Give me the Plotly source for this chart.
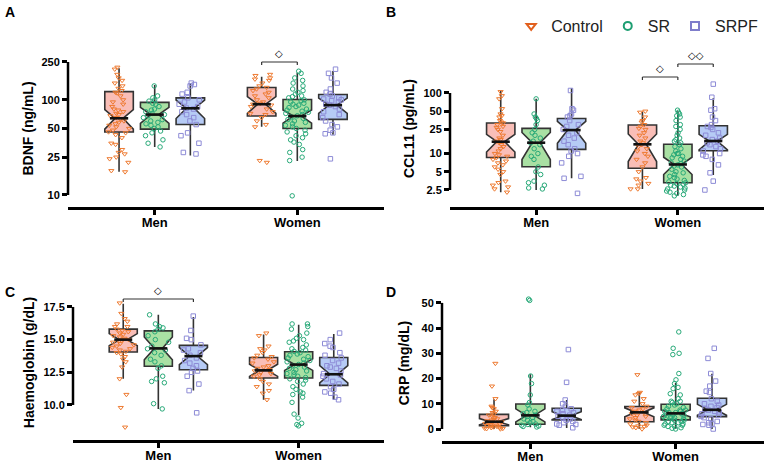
import math
import plotly.graph_objects as go

W, H = 767, 464
GROUPS = ["Control", "SR", "SRPF"]
SEXES = ["Men", "Women"]

# ---------------- Panel A: BDNF (ng/mL) ----------------
BDNF_CONTROL_MEN = [220, 210, 185, 170, 160, 150, 140, 132, 125, 120, 118, 110, 100, 95, 90, 85, 80, 78, 75, 72, 70, 68, 65, 63, 60, 58, 56, 54, 52, 50, 48, 46, 45, 43, 40, 35, 34, 30, 28, 27, 25, 24, 22, 18, 17.5]
BDNF_CONTROL_WOMEN = [185, 180, 170, 165, 160, 150, 140, 135, 130, 125, 120, 115, 110, 105, 100, 95, 92, 90, 88, 85, 80, 75, 72, 70, 65, 60, 55, 52, 23, 22]
BDNF_SR_MEN = [140, 110, 105, 100, 97, 92, 90, 85, 80, 78, 75, 72, 70, 68, 65, 62, 60, 58, 56, 54, 52, 50, 47, 45, 42, 38, 35, 32]
BDNF_SR_WOMEN = [200, 190, 170, 160, 150, 140, 130, 125, 120, 115, 110, 108, 105, 100, 98, 95, 92, 90, 88, 85, 83, 80, 78, 76, 74, 72, 70, 68, 66, 64, 62, 60, 58, 56, 54, 52, 50, 48, 46, 44, 42, 40, 38, 36, 34, 30, 28, 25, 23, 9.8]
BDNF_SRPF_MEN = [150, 145, 140, 120, 115, 105, 100, 95, 90, 85, 82, 80, 75, 70, 65, 60, 55, 45, 42, 35, 28, 27]
BDNF_SRPF_WOMEN = [210, 190, 170, 150, 130, 120, 115, 110, 105, 102, 100, 98, 95, 90, 88, 85, 80, 75, 70, 65, 60, 55, 52, 48, 45, 44, 24]
# stats per group: [Men, Women]
BDNF_Q1 = [[46, 67.6], [49.3, 50], [55, 62.4]]
BDNF_MED = [[64, 90], [70, 67.6], [81.5, 88]]
BDNF_Q3 = [[122, 135], [94, 101], [105, 114]]
BDNF_LO = [[17.5, 52], [32, 22.7], [26, 43]]
BDNF_HI = [[215, 175], [143, 193], [149, 201]]
BDNF_TICKS = [10, 25, 50, 100, 250]
BDNF_TICKTEXT = ["10", "25", "50", "100", "250"]

# ---------------- Panel B: CCL11 (pg/mL) ----------------
CCL11_CONTROL_MEN = [105, 90, 80, 55, 45, 42, 40, 35, 33, 32, 30, 28, 27, 25, 23, 20, 18, 17, 16, 15, 14, 13, 12, 11, 10, 9.5, 9, 8.5, 8, 7.5, 7, 6.5, 6, 5.5, 5, 4.5, 3.5, 3.3, 3, 2.8, 2.6, 2.3]
CCL11_CONTROL_WOMEN = [50, 48, 40, 35, 33, 30, 28, 26, 25, 22, 20, 18, 16, 15, 14, 13, 12, 11, 10, 9, 8, 7, 6, 5, 4, 3.8, 3.5, 3.2, 3, 2.6, 2.6]
CCL11_SR_MEN = [80, 45, 40, 38, 35, 30, 25, 22, 20, 18, 16, 15, 14, 12, 10, 9, 8, 6, 5, 4.5, 3.5, 3.3, 3, 2.7, 2.6]
CCL11_SR_WOMEN = [52, 48, 45, 42, 40, 35, 30, 28, 25, 22, 20, 18, 17, 16, 15, 14, 13, 12, 11, 10, 10, 9.5, 9, 8.5, 8, 7.5, 7, 6.8, 6.5, 6.2, 6, 5.5, 5, 4.8, 4.5, 4.2, 4, 3.8, 3.6, 3.4, 3.3, 3.2, 3.1, 3, 2.9, 2.8, 2.7, 2.6, 2.5, 2.4, 2.3, 2.2, 2.1, 2.0]
CCL11_SRPF_MEN = [110, 55, 52, 45, 42, 40, 35, 30, 28, 25, 22, 20, 18, 16, 14, 12, 11, 10, 9, 7, 4.2, 3.9, 2.2]
CCL11_SRPF_WOMEN = [140, 85, 55, 52, 40, 35, 30, 28, 27, 25, 22, 20, 18, 17, 16, 15, 14, 13, 12, 11, 10, 9.5, 9, 8, 6.5, 4.8, 3.5, 2.5]
CCL11_Q1 = [[8.6, 5.7], [6.05, 3.3], [11.7, 11.1]]
CCL11_MED = [[15.7, 14.2], [15.1, 6.6], [24.4, 16.1]]
CCL11_Q3 = [[32, 29.6], [26, 14.2], [38, 28.8]]
CCL11_LO = [[2.3, 2.6], [2.5, 2.0], [3.9, 4.4]]
CCL11_HI = [[109, 49], [80, 50], [120, 82]]
CCL11_TICKS = [2.5, 5, 10, 25, 50, 100]
CCL11_TICKTEXT = ["2.5", "5", "10", "25", "50", "100"]

# ---------------- Panel C: Haemoglobin (g/dL) ----------------
HB_CONTROL_MEN = [17.8, 17.0, 16.6, 16.4, 16.2, 16.0, 16.0, 15.8, 15.7, 15.6, 15.5, 15.4, 15.3, 15.2, 15.1, 15.0, 15.0, 14.9, 14.8, 14.7, 14.6, 14.5, 14.4, 14.3, 14.2, 14.1, 14.0, 13.9, 13.7, 13.5, 13.3, 12.9, 12.0, 10.8, 9.8, 8.3]
HB_CONTROL_WOMEN = [15.5, 15.3, 14.5, 14.3, 14.2, 14.0, 13.8, 13.7, 13.6, 13.5, 13.3, 13.2, 13.0, 12.9, 12.8, 12.7, 12.6, 12.5, 12.4, 12.3, 12.2, 12.0, 11.8, 11.6, 11.4, 11.1, 10.9, 10.4]
HB_SR_MEN = [16.9, 16.2, 16.0, 15.9, 15.8, 15.6, 15.3, 15.0, 14.8, 14.5, 14.3, 14.2, 14.0, 13.8, 13.5, 13.3, 13.0, 12.8, 12.2, 12.0, 11.8, 11.7, 10.1, 9.7]
HB_SR_WOMEN = [16.2, 16.2, 16.0, 15.8, 15.5, 15.3, 15.1, 15.0, 14.9, 14.8, 14.6, 14.4, 14.3, 14.2, 14.1, 14.0, 13.9, 13.8, 13.7, 13.6, 13.5, 13.4, 13.3, 13.2, 13.1, 13.0, 12.9, 12.8, 12.7, 12.6, 12.5, 12.4, 12.3, 12.2, 12.1, 12.0, 11.9, 11.8, 11.6, 11.4, 11.2, 11.0, 10.9, 10.8, 10.6, 10.2, 9.3, 9.0, 8.6, 8.5, 8.4]
HB_SRPF_MEN = [16.8, 15.7, 15.1, 15.0, 14.6, 14.3, 14.2, 14.0, 13.8, 13.6, 13.4, 13.2, 13.0, 12.8, 12.6, 12.5, 12.2, 11.6, 11.1, 9.4]
HB_SRPF_WOMEN = [15.5, 15.0, 14.7, 14.5, 14.4, 14.0, 13.8, 13.6, 13.4, 13.2, 13.0, 12.9, 12.8, 12.6, 12.4, 12.3, 12.2, 12.0, 11.8, 11.6, 11.4, 11.2, 11.0, 10.9, 10.6, 10.4]
HB_Q1 = [[14.05, 12.06], [12.96, 12.06], [12.7, 11.5]]
HB_MED = [[15.0, 12.65], [14.33, 13.09], [13.74, 12.35]]
HB_Q3 = [[15.8, 13.63], [15.67, 14.07], [14.56, 13.63]]
HB_LO = [[12.0, 10.4], [9.7, 9.23], [11.1, 10.4]]
HB_HI = [[17.75, 15.4], [16.9, 16.13], [16.73, 15.44]]
HB_TICKS = [10.0, 12.5, 15.0, 17.5]
HB_TICKTEXT = ["10.0", "12.5", "15.0", "17.5"]

# ---------------- Panel D: CRP (mg/dL) ----------------
CRP_CONTROL_MEN = [26, 17, 12, 9, 8.5, 8, 7, 6.5, 6, 5.5, 5, 4.5, 4, 3.8, 3.5, 3.2, 3, 2.8, 2.5, 2.2, 2, 1.8, 1.5, 1.3, 1.2, 1, 0.8, 0.6, 0.5, 0.3, 0.2, 0.1, 0]
CRP_CONTROL_WOMEN = [21.5, 14.5, 14, 13.5, 12, 11, 10, 9, 8.5, 8, 7.5, 7, 6.5, 6, 5.5, 5, 4.5, 4, 3.5, 3, 2.5, 2, 1.5, 1.2, 1, 0.8, 0.5, 0]
CRP_SR_MEN = [51.5, 51, 21, 18, 13.5, 10.5, 9.5, 8, 7, 6.5, 6, 5.5, 5, 4.5, 4, 3.5, 3, 2.5, 2, 1.8, 1.5, 1.2, 1, 0.8]
CRP_SR_WOMEN = [38.5, 32, 30, 29.5, 22, 19.5, 18, 16.5, 16, 14, 13.5, 12, 11, 11, 10.5, 10, 9.5, 9, 8.5, 8, 7.5, 7.5, 7, 7, 6.5, 6.5, 6, 6, 5.5, 5.5, 5, 5, 4.5, 4.5, 4, 4, 3.5, 3.5, 3, 3, 2.5, 2.5, 2, 2, 1.5, 1.5, 1, 1, 0.5, 0.3, 0]
CRP_SRPF_MEN = [31.5, 18.5, 11.5, 10, 9, 8, 7.5, 7, 6.5, 6, 5.5, 5, 4.5, 4, 3.5, 3, 2.5, 2, 1.8, 1.5, 0.5]
CRP_SRPF_WOMEN = [32, 28, 22, 19, 17, 15, 14.5, 12, 11, 10, 9.5, 9, 8.5, 8, 7.5, 7, 6.5, 6, 5.5, 5, 4.5, 4, 3, 2.5, 2, 1.8, 1.5, 0]
CRP_Q1 = [[1.3, 2.9], [1.9, 3.6], [3.6, 4.9]]
CRP_MED = [[2.9, 6.6], [5.4, 6.2], [5.3, 7.6]]
CRP_Q3 = [[5.8, 8.9], [9.9, 9.8], [8.2, 12.2]]
CRP_LO = [[0, 0], [0.7, 0], [0.4, 0]]
CRP_HI = [[11.8, 14.7], [21.7, 18.2], [11.5, 21.9]]
CRP_TICKS = [0, 10, 20, 30, 40, 50]
CRP_TICKTEXT = ["0", "10", "20", "30", "40", "50"]

# ---------------- styling ----------------
MARKER_COLORS = ["#EE7A30", "#27A978", "#8D8BD6"]
LEGEND_COLORS = ["#E2601E", "#1E9E72", "#7F7DCB"]
FILL_COLORS = ["#F9BEB7", "#A9E0A3", "#B6CBF5"]
SYMBOLS = ["triangle-down-open", "circle-open", "square-open"]
BOXGAP, GROUPGAP, NOTCHW = 0.25, 0.2, 0.36
FONT = "Liberation Sans, Arial, Helvetica, sans-serif"

panels = [
    dict(label="A", xa="x", ya="y", xd=(68, 384), yd=(50, 207), log=True,
         yr=(0.8738, 2.524), ticks=BDNF_TICKS, ticktext=BDNF_TICKTEXT, title="BDNF (ng/mL)",
         pts=[(BDNF_CONTROL_MEN, BDNF_CONTROL_WOMEN), (BDNF_SR_MEN, BDNF_SR_WOMEN), (BDNF_SRPF_MEN, BDNF_SRPF_WOMEN)],
         st=(BDNF_Q1, BDNF_MED, BDNF_Q3, BDNF_LO, BDNF_HI), lab=(3, 12), so=4),
    dict(label="B", xa="x2", ya="y2", xd=(450, 764), yd=(50, 207), log=True,
         yr=(0.117, 2.71), ticks=CCL11_TICKS, ticktext=CCL11_TICKTEXT, title="CCL11 (pg/mL)",
         pts=[(CCL11_CONTROL_MEN, CCL11_CONTROL_WOMEN), (CCL11_SR_MEN, CCL11_SR_WOMEN), (CCL11_SRPF_MEN, CCL11_SRPF_WOMEN)],
         st=(CCL11_Q1, CCL11_MED, CCL11_Q3, CCL11_LO, CCL11_HI), lab=(384, 12), so=5),
    dict(label="C", xa="x3", ya="y3", xd=(73, 384), yd=(285, 440), log=False,
         yr=(7.32, 19.18), ticks=HB_TICKS, ticktext=HB_TICKTEXT, title="Haemoglobin (g/dL)",
         pts=[(HB_CONTROL_MEN, HB_CONTROL_WOMEN), (HB_SR_MEN, HB_SR_WOMEN), (HB_SRPF_MEN, HB_SRPF_WOMEN)],
         st=(HB_Q1, HB_MED, HB_Q3, HB_LO, HB_HI), lab=(3, 292), so=5),
    dict(label="D", xa="x4", ya="y4", xd=(442, 764), yd=(285, 441), log=False,
         yr=(-4.76, 57.1), ticks=CRP_TICKS, ticktext=CRP_TICKTEXT, title="CRP (mg/dL)",
         pts=[(CRP_CONTROL_MEN, CRP_CONTROL_WOMEN), (CRP_SR_MEN, CRP_SR_WOMEN), (CRP_SRPF_MEN, CRP_SRPF_WOMEN)],
         st=(CRP_Q1, CRP_MED, CRP_Q3, CRP_LO, CRP_HI), lab=(384, 292), so=8),
]


def fx(p):
    return p / W


def fy(p):
    return 1 - p / H


def off(gi):
    return (1 - BOXGAP) * (-0.5 + (gi + 0.5) / 3)


HALF_BOX = (1 - BOXGAP) * (1 - GROUPGAP) / 3 / 2


def notch(q1, med, q3, n, log):
    if log:
        s = 1.57 * (math.log10(q3) - math.log10(q1)) / math.sqrt(n)
        return med * (10 ** s - 10 ** (-s)) / 2
    return 1.57 * (q3 - q1) / math.sqrt(n)


fig = go.Figure()
layout = dict(template="none", width=W, height=H, margin=dict(l=0, r=0, t=0, b=0),
              paper_bgcolor="white", plot_bgcolor="white",
              boxmode="group", boxgap=BOXGAP, boxgroupgap=GROUPGAP,
              font=dict(family=FONT, color="black"), shapes=[], annotations=[])

for P in panels:
    q1s, meds, q3s, los, his = P["st"]
    # boxes
    for gi, g in enumerate(GROUPS):
        men, women = P["pts"][gi]
        ns = [len(men), len(women)]
        fig.add_trace(go.Box(
            x=SEXES, q1=q1s[gi], median=meds[gi], q3=q3s[gi],
            lowerfence=los[gi], upperfence=his[gi],
            notchspan=[notch(q1s[gi][k], meds[gi][k], q3s[gi][k], ns[k], P["log"]) for k in range(2)],
            notched=True, notchwidth=NOTCHW, boxpoints=False, whiskerwidth=0,
            fillcolor=FILL_COLORS[gi], line=dict(color="#333333", width=1.6),
            offsetgroup=g, alignmentgroup="grp", name=g, showlegend=False,
            hoverinfo="skip", xaxis=P["xa"], yaxis=P["ya"]))
        # thick median line (narrowed by the notch)
        for k in range(2):
            c = k + off(gi)
            hw = HALF_BOX * (1 - NOTCHW)
            layout["shapes"].append(dict(type="line", xref=P["xa"], yref=P["ya"],
                                         x0=c - hw, x1=c + hw, y0=meds[gi][k], y1=meds[gi][k],
                                         line=dict(color="#111111", width=2.6), layer="above"))
    # points
    for gi, g in enumerate(GROUPS):
        men, women = P["pts"][gi]
        fig.add_trace(go.Box(
            x=["Men"] * len(men) + ["Women"] * len(women), y=list(men) + list(women),
            boxpoints="all", jitter=0.85, pointpos=0, whiskerwidth=0,
            fillcolor="rgba(0,0,0,0)", line=dict(color="rgba(0,0,0,0)", width=0),
            marker=dict(symbol=SYMBOLS[gi], size=4.5, color=MARKER_COLORS[gi],
                        line=dict(width=1, color=MARKER_COLORS[gi])),
            offsetgroup=g, alignmentgroup="grp", name=g, showlegend=False,
            hoverinfo="skip", xaxis=P["xa"], yaxis=P["ya"]))

    n = P["xa"][1:]
    xkey = "xaxis" + n
    ykey = "yaxis" + n
    e = 0.108  # extra room on each side of the category range
    layout[xkey] = dict(domain=[fx(P["xd"][0]), fx(P["xd"][1])], anchor=P["ya"],
                        type="category", categoryorder="array", categoryarray=SEXES,
                        range=[-0.5 - e, 1.5 + e], showline=True, linewidth=2.5,
                        linecolor="black", ticks="outside", ticklen=5, tickwidth=2.5,
                        tickcolor="black", showgrid=False, zeroline=False, automargin=False,
                        ticklabelstandoff=-3,
                        tickfont=dict(size=13, weight="bold", family=FONT, color="black"))
    layout[ykey] = dict(domain=[fy(P["yd"][1]), fy(P["yd"][0])], anchor=P["xa"],
                        type="log" if P["log"] else "linear", range=list(P["yr"]),
                        tickmode="array", tickvals=P["ticks"], ticktext=P["ticktext"],
                        ticks="outside", ticklen=5, tickwidth=2.5, tickcolor="black",
                        showline=False, showgrid=False, zeroline=False, automargin=False,
                        tickfont=dict(size=11, weight="bold", family=FONT, color="black"),
                        title=dict(text=P["title"], standoff=P["so"],
                                   font=dict(size=14, weight="bold", family=FONT, color="black")))
    # y axis line from lowest to highest tick (data values)
    layout["shapes"].append(dict(type="line", xref=P["xa"] + " domain", yref=P["ya"],
                                 x0=0, x1=0, y0=min(P["ticks"]), y1=max(P["ticks"]),
                                 line=dict(color="black", width=2.5)))
    layout["annotations"].append(dict(text="<b>" + P["label"] + "</b>", xref="paper", yref="paper",
                                      x=fx(P["lab"][0]), y=fy(P["lab"][1]), xanchor="left",
                                      yanchor="middle", showarrow=False,
                                      font=dict(size=14, family=FONT, color="black")))


def bracket(xa, cat, g0, g1, ypx, text):
    x0, x1 = cat + off(g0), cat + off(g1)
    y = fy(ypx)
    t = 3 / H
    for (a, b, c, d) in [(x0, y - t, x0, y), (x0, y, x1, y), (x1, y, x1, y - t)]:
        layout["shapes"].append(dict(type="line", xref=xa, yref="paper", x0=a, y0=b, x1=c, y1=d,
                                     line=dict(color="#333333", width=1.2)))
    layout["annotations"].append(dict(text=text, xref=xa, yref="paper", x=(x0 + x1) / 2,
                                      y=y + 1 / H, yanchor="bottom", showarrow=False,
                                      font=dict(size=10, color="black", family="DejaVu Sans")))


bracket("x", 1, 0, 1, 62, "◇")
bracket("x2", 1, 0, 1, 77, "◇")
bracket("x2", 1, 1, 2, 64, "◇◇")
bracket("x3", 0, 0, 2, 299, "◇")

# legend entries
for gi, g in enumerate(GROUPS):
    fig.add_trace(go.Scatter(x=[None], y=[None], mode="markers", name=g,
                             marker=dict(symbol=SYMBOLS[gi], size=8, color=LEGEND_COLORS[gi],
                                         line=dict(width=2, color=LEGEND_COLORS[gi])),
                             xaxis="x2", yaxis="y2", showlegend=True))

layout["showlegend"] = True
layout["legend"] = dict(orientation="h", x=0.995, xanchor="right", y=fy(26), yanchor="middle",
                        font=dict(size=16, family=FONT, color="#222222"),
                        bgcolor="rgba(0,0,0,0)", itemclick=False)
fig.update_layout(**layout)
fig.write_html("out.html", config={"displayModeBar": False},
               post_script="document.body.style.margin='0px';document.body.style.overflow='hidden';")
